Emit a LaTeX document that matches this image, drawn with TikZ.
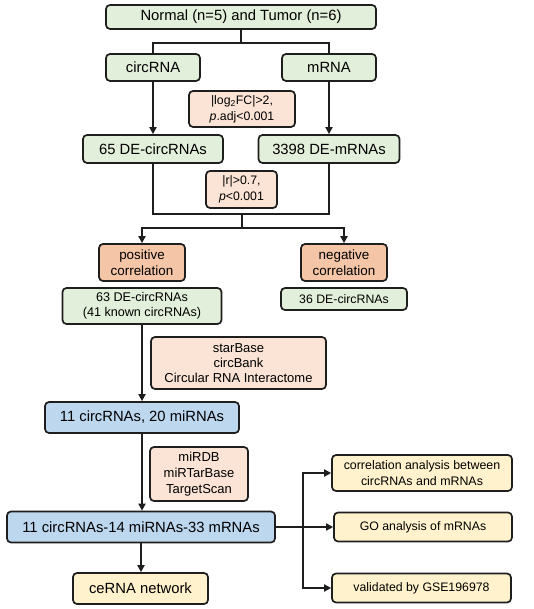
\documentclass[tikz,border=0pt]{standalone}
\usepackage{fontspec}
\setmainfont{Liberation Sans}
\usetikzlibrary{arrows.meta}
\definecolor{cgreen}{HTML}{E2EFDA}
\definecolor{corange}{HTML}{F4C5A6}
\definecolor{cpeach}{HTML}{FBE4D6}
\definecolor{cblue}{HTML}{BDD7EE}
\definecolor{cyellow}{HTML}{FFF2CC}
\definecolor{cline}{HTML}{1E1E1E}
\tikzset{
  box/.style={draw=cline, line width=1.7pt, rounded corners=4pt, inner sep=0pt, align=center, text=black},
  greenbox/.style={box, fill=cgreen},
  orangebox/.style={box, fill=corange},
  peachbox/.style={box, fill=cpeach},
  bluebox/.style={box, fill=cblue},
  yellowbox/.style={box, fill=cyellow},
  big/.style={font=\fontsize{14.8}{17}\selectfont},
  mid/.style={font=\fontsize{13.4}{16}\selectfont},
  sml/.style={font=\fontsize{12.3}{15.7}\selectfont},
  conn/.style={draw=cline, line width=2pt},
  arr/.style={conn, -{Triangle[length=7pt,width=7pt]}},
  sz/.style 2 args={minimum width=#1pt, minimum height=#2pt}
}
\begin{document}
\begin{tikzpicture}[x=1pt,y=-1pt]
\useasboundingbox (0,0) rectangle (534,609);
\fill[white] (0,0) rectangle (534,609);

\node[greenbox, big, sz={270}{24}] (top) at (241,17) {Normal (n=5) and Tumor (n=6)};
\node[greenbox, big, sz={94}{27}] (circ) at (153,67.5) {circRNA};
\node[greenbox, big, sz={94}{27}] (mrna) at (329,67.5) {mRNA};
\node[peachbox, sml, sz={106}{36}] (fc) at (242,109) {|log\textsubscript{2}FC|>2,\\\textit{p}.adj<0.001};
\node[greenbox, big, sz={140}{28}] (dec) at (153,149) {65 DE-circRNAs};
\node[greenbox, big, sz={141}{28}] (dem) at (329,149) {3398 DE-mRNAs};
\node[peachbox, sml, sz={71}{37}] (rr) at (241.5,189.5) {|r|>0.7,\\\textit{p}<0.001};
\node[orangebox, mid, sz={86}{37}] (pos) at (142,262.5) {positive\\correlation};
\node[orangebox, mid, sz={86}{37}] (neg) at (344,262.5) {negative\\correlation};
\node[greenbox, font=\fontsize{12.6}{15}\selectfont, sz={159}{36}] (c63) at (142,306) {63 DE-circRNAs\\(41 known circRNAs)};
\node[greenbox, sml, sz={126}{22}] (c36) at (344,299) {36 DE-circRNAs};
\node[peachbox, font=\fontsize{13}{15}\selectfont, sz={175}{52}] (db1) at (238.5,363) {starBase\\circBank\\Circular RNA Interactome};
\node[bluebox, big, sz={194}{31}] (c11) at (142,417.5) {11 circRNAs, 20 miRNAs};
\node[peachbox, font=\fontsize{13}{15.7}\selectfont, sz={98}{54}] (db2) at (199,474) {miRDB\\miRTarBase\\TargetScan};
\node[bluebox, big, sz={268}{31}] (net) at (141,527) {11 circRNAs-14 miRNAs-33 mRNAs};
\node[yellowbox, big, sz={135}{31}] (cerna) at (140.5,588.5) {ceRNA network};
\node[yellowbox, font=\fontsize{12.4}{16.3}\selectfont, sz={180}{36}] (corr) at (422,473) {correlation analysis between\\circRNAs and mRNAs};
\node[yellowbox, sml, sz={178}{29}] (go) at (423,527) {GO analysis of mRNAs};
\node[yellowbox, sml, sz={179}{29}] (val) at (421.5,588) {validated by GSE196978};

\coordinate (j1) at (241,43);
\coordinate (j2) at (242,214);
\coordinate (j3) at (242,228);
\coordinate (j4) at (303,527);

\draw[conn] (top.south) -- (j1);
\draw[conn] (circ.north) |- (j1) -| (mrna.north);
\draw[arr] (circ.south) -- (dec.north);
\draw[arr] (mrna.south) -- (mrna.south |- dem.north);
\draw[conn] (dec.south) |- (j2) -| (dem.south);
\draw[conn] (j2) -- (j3);
\draw[arr] (j3) -| (pos.north);
\draw[arr] (j3) -| (neg.north);
\draw[arr] (c63.south) -- (c11.north);
\draw[arr] (c11.south) -- (c11.south |- net.north);
\draw[arr] (net.south) -- (net.south |- cerna.north);
\draw[arr] (net.east) -- (go.west);
\draw[arr] (j4) |- (corr.west);
\draw[arr] (j4) |- (val.west);
\end{tikzpicture}
\end{document}
